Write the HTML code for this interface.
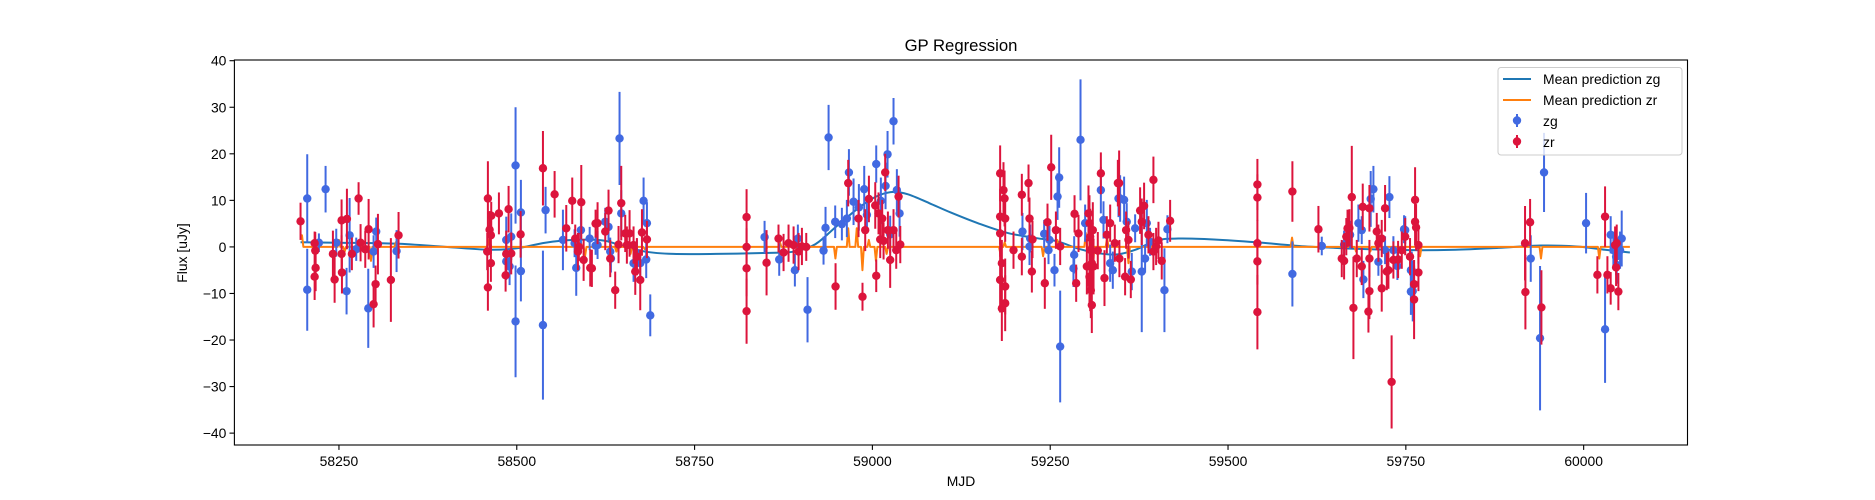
<!DOCTYPE html>
<html><head><meta charset="utf-8"><style>
html,body{margin:0;padding:0;background:#fff;}
svg{display:block;font-family:"Liberation Sans","DejaVu Sans",sans-serif;}
</style></head><body>
<svg id="chart" width="1875" height="500" viewBox="0 0 1875 500" xmlns="http://www.w3.org/2000/svg">
<rect x="0" y="0" width="1875" height="500" fill="#fff"/>
<text x="961" y="51" text-anchor="middle" font-size="16.7" fill="#000">GP Regression</text>
<g id="plot"></g>
<g id="axes"></g>
<text x="961" y="486" text-anchor="middle" font-size="13.9" fill="#000">MJD</text>
<text x="0" y="0" transform="translate(187,253) rotate(-90)" text-anchor="middle" font-size="13.9" fill="#000">Flux [uJy]</text>
<g id="legend">
<rect x="1498" y="67.5" width="184" height="87.5" rx="3" fill="#fff" fill-opacity="0.8" stroke="#ccc" stroke-width="1"/>
<line x1="1503" y1="79" x2="1531" y2="79" stroke="#1f77b4" stroke-width="2"/>
<text x="1543" y="84" font-size="13.9" fill="#000">Mean prediction zg</text>
<line x1="1503" y1="100" x2="1531" y2="100" stroke="#ff7f0e" stroke-width="2"/>
<text x="1543" y="105" font-size="13.9" fill="#000">Mean prediction zr</text>
<line x1="1517" y1="114" x2="1517" y2="127" stroke="#4169e1" stroke-width="2"/>
<circle cx="1517" cy="120.5" r="4.2" fill="#4169e1"/>
<text x="1543" y="126" font-size="13.9" fill="#000">zg</text>
<line x1="1517" y1="135" x2="1517" y2="148" stroke="#dc143c" stroke-width="2"/>
<circle cx="1517" cy="141.5" r="4.2" fill="#dc143c"/>
<text x="1543" y="147" font-size="13.9" fill="#000">zr</text>
</g>
</svg>
<script>
const xTicks=[58250,58500,58750,59000,59250,59500,59750,60000];
const yTicks=[40,30,20,10,0,-10,-20,-30,-40];
const zgMjd=[58205.4,58205.4,58221.8,58231.2,58246.2,58260.7,58265,58274.3,58291.2,58302.4,58298.7,58331,
58485.2,58485.2,58489.9,58492.2,58498.3,58498.3,58505.8,58505.8,58536.8,58540.5,58564.9,58581.3,58583.6,58590.2,58602.5,58610.8,
58613.6,58624.4,58629,58631.4,58632.4,58644.5,58646.9,58664.2,58668.9,58673.6,58678.3,58683,58682,58687.7,
58848.4,58869,58891,58895.2,58908.8,58931.3,58934.1,58938.4,58947.7,58957.1,58964.1,58967,58973.5,58981,58988.5,58992.3,59005.4,59011.9,59018.5,59021.3,59029.7,59034.4,59038.2,59025,
59211,59220.9,59221.8,59241.5,59247.6,59249,59256,59260.3,59262.6,59264,59283.7,59282.7,59292.6,59299.1,59321.2,59324.9,59334.3,59338,59346,
59348.3,59353.9,59357.6,59369.4,59364.7,59378.7,59383.4,59385.8,59390.4,59410.6,59414.8,59590.5,59631.8,
59663.2,59671.6,59683.3,59688,59690.3,59700.6,59704.4,59711.4,59720.8,59726.9,59732.5,59738.1,59749.1,59757.1,59757.1,
59747.5,59758.3,59759.7,59925.6,59938.7,59944.3,60003.4,60030.1,60038,60041.8,60045.6,60046.5,60051.2,60053.5];
const zgFlux=[10.4,-9.2,0.9,12.4,0.9,-9.5,2.5,-0.5,-13.2,3.3,-1,-0.9,
1.5,-3.1,-4.2,2.2,17.5,-16,7.4,-5.2,-16.8,7.9,1.5,0.8,-4.5,3.6,1.8,0.3,
0.4,5.4,4.3,-1,-2.5,23.3,7.2,-3.5,-1.4,-3.5,9.9,5.1,-2.7,-14.7,
2.1,-2.7,-5,1.8,-13.5,-0.8,4.1,23.5,5.4,4.9,6.1,16,9.7,8.5,12.4,6.9,17.8,9.9,13.1,19.9,27,12.2,7.2,2.7,
3.3,0.1,1.8,2.8,-0.7,1.5,-5,10.8,14.9,-21.4,-1.7,-4.6,23,5.1,12.2,5.8,-3.5,-5,10.4,
10.4,10.1,5.4,4,-5.3,-5.3,-2.5,5.1,1.1,-9.3,3.8,-5.8,0.2,
0.5,2.6,5.1,3.6,-7,10.3,12.4,-3.2,-0.7,10.7,-0.7,-4.1,3.6,-5,-9.6,
3.8,-5,-9.5,-2.5,-19.6,16,5.1,-17.7,2.6,-0.7,-2.1,-3.9,-0.7,1.8];
const zgErr=[9.5,8.8,2,5,3,5,8,2.5,8.5,3,3.5,4.5,
5,4,4,5,12.5,12,7,6.5,16,5,6.5,3,6,4.5,2.5,2,
3,3,3,3,3,10,5,4,3,3,5,4.5,4,4.5,
3.5,3.5,3.5,3,7,3,4.5,7,3.5,3.5,4,5,5,5,5,4,4,5,5,5,5,4.5,5,4,
4,4,3,3,3,3,3.5,5,6.5,12,4,4,13,4,5,4,4,4,4,
5,5,4,3,4,13,3,5,3,9,3,7,2,
3,3,4,3,4,6,5,3,3,4.5,3,3,3,4,5,
3,4,6.5,5,15.5,8.5,6.5,11.5,4,4,4,4,4,6];
const zrMjd=[58196,58215.8,58216.7,58217.2,58215.8,58241.5,58243.9,58253.7,58253.7,58254.2,58261.2,58268.2,58277.6,58280.4,58287,58291.7,58304.8,58301.5,58298.7,58323,58333.8,
58459.4,58459.4,58458.5,58461.8,58463.6,58463.6,58464.1,58474.9,58488.5,58485.2,58492.2,58484.3,58505.4,58536.8,58553.2,58569.6,58578,58590.7,58582.2,58586,58587.3,58594,58603.3,58610.8,
58605.6,58613.6,58624.4,58629,58631.4,58638.4,58643.1,58646.9,58652.5,58654.8,58658.6,58664.2,58666.6,58668.9,58673.6,58676,58683,
58823.1,58823.1,58823.1,58823.1,58851.2,58868,58875.1,58882.1,58889.2,58896.2,58900.9,58907,
58948.2,58966,58980.5,58986.1,58989.9,58995.1,59004,59005.4,59008.6,59011,59013.8,59015.7,59018,59021.8,59025,59029.7,59033.5,59036.8,59039.2,
59179.6,59179.6,59179.6,59179.6,59182,59182,59184.3,59185.8,59186.7,59186.7,59186.7,59198.4,59210.1,59210.1,59219.5,59220.9,59225.1,59224.2,59242.4,59246.2,59251.4,59258,59264,59284.2,59286.5,59289.8,
59303.8,59305.2,59306.2,59307.1,59308.5,59305.2,59307.1,59308.5,59310.9,59309.9,59301.5,59306.2,
59316.9,59321.2,59326.3,59329.6,59334.3,59340.8,59345.1,
59346.9,59347.3,59355.3,59356.7,59360,59363.3,59376.4,59378.7,59382,59388.1,59395.1,59395.1,59398.9,59402.2,59406.8,59418.6,
59541.3,59541.3,59541.3,59541.3,59541.3,59590.5,59627.1,
59659.9,59663.2,59666.3,59668,59670.7,59674,59676.3,59681,59688,59689.4,59698.8,59698.8,59698.8,59697.4,59709.1,59711.4,59716.1,59716.1,59720.8,59723.2,59725.5,59730,59732.5,59739.1,59744.3,59749.1,59755.9,
59763,59763,59764.4,59767.7,59767.7,59761.6,59761.6,59917.6,59918.1,59924.7,59940.6,60019.3,60030.1,60033.4,60038,60044.2,60045.6,60048.8,60046.5];
const zrFlux=[5.5,0.8,-0.8,-4.5,-6.4,-1.5,-7,5.7,-1.5,-5.5,6,-1.5,10.4,0.9,-0.5,3.8,0.6,-8,-12.3,-7.1,2.5,
10.4,-8.7,-1,3.7,2.5,-3.5,6.7,7.2,8.1,-1.5,-1.4,-6.1,2.7,16.9,11.3,4,9.9,9.6,1.8,-1,0,-2.8,-4.5,5,
-4.6,5.1,3.3,7.8,-2.5,-9.3,0.5,9.4,2.9,0.4,2.9,0.4,-5.3,-2.1,-7.1,3.1,1.6,
6.4,0,-4.6,-13.8,-3.4,1.8,-1.2,0.8,0.4,-1,0.1,0,
-8.5,13.7,6.1,-10.7,3.6,10.3,8.9,-6.2,7.2,1.6,6.1,1.3,16,3.6,-2.8,3.6,-0.7,10.8,0.5,
15.8,6.5,2.9,-7.1,-3.5,-13.2,12.2,10.4,6.1,-8.5,-12.1,-0.7,11.2,-2.1,13.7,6.1,1.6,-5.3,-7.8,5.3,17.1,3.6,0.1,7.1,-7.8,2.9,
7.2,5.1,2.2,-0.7,-3.5,-6.4,-9.3,-12.5,-4.2,3.6,-4.2,-7.8,
-0.8,15.8,-6.7,2.6,5.1,0.8,13.7,
13.7,-2.5,-6.4,3.6,1.5,-7,7.8,5.4,8.8,2.6,14.4,-1,0.1,1.4,-3,5.6,
13.4,10.6,0.8,-3.1,-14,11.9,3.8,
-2.5,-3,2.2,4,4.1,10.7,-13.1,-2.5,-4.2,8.6,8.3,-2.5,-9.5,-13.9,3.3,0.8,1.8,-8.9,8.3,-5.3,-5,-29,-2.8,-2.7,-0.7,2.2,-2.1,
10.1,5.4,4.2,0.4,-5.5,-8,-11.3,0.8,-9.7,5.3,-13,-6,6.5,-6,-8.9,0.4,-4.4,-9.6,0.8];
const zrErr=[4,2.5,4,5,5,5,5,4.5,4,4.5,6.5,3.5,3.5,4,4,6.5,6.5,4,5,9,5,
8,5,4,4,4,4,3,4.5,5,5,4.5,3.5,5,8,5,5,5,8,3,4,3,4.5,4,3,
4,4.5,4,4.5,4,4,4,8,4,4,5,4,5,4,6.5,5,4,
6,4,6,7,7,3,4,4,4,4,4,3,
5,5,4,3,4.5,5,5,3.5,4.5,4,4,4,4,4,6,4.5,4,4.5,4,
6,6,5,7,5,7,6,6,5,6,6,4,4.5,4,4,4.5,4,4.5,5.5,4,7,4,4,4,4,4,
6,6,6,6,6,6,6,6,6,6,6,6,
4,4.5,6,4,4,4,5,
7,4,4,4,4,4,5,5,5,4,5,4,4,4,4,4.5,
5.5,5,5,5,8,6.5,5,
4,4,4,4,4,11,11,4,4,5,5,4,6,4.5,4,4,4,5,5,4,4,10,4,4,4,4,4,
7,5,5,4,4,4,8.5,8,8,5,8,4,6.5,4,3.5,4,4,4,4];
const zgMeanMjd=[58196,58250,58330,58400,58460,58500,58540,58580,58620,58645,58680,58720,58780,58850,58890,58920,58950,58980,59005,59028,59050,59080,59110,59150,59190,59230,59260,59290,59320,59345,59370,59400,59430,59480,59540,59600,59650,59700,59760,59820,59880,59940,59990,60030,60065];
const zgMeanFlux=[1.0,0.9,0.7,0,-0.6,-0.3,0.9,1.5,1.4,0.4,-1.0,-1.5,-1.5,-1.3,-1.0,0.6,4.5,8.3,10.8,11.8,11.3,9.4,7.4,5.0,3.0,1.9,1.2,-0.4,-1.4,-1.6,-0.6,1.4,1.8,1.6,1.0,0.2,-0.2,-0.5,-0.7,-0.6,-0.2,0.3,0.1,-0.6,-1.2];
const zrSpikeMjd=[58198,58250,58258,58295,58301,58330,58460,58590,58596,58640,58660,58680,58850,58870,58948,58966,58978,58986,58995,59005,59020,59180,59186,59240,59260,59300,59310,59330,59360,59395,59590,59680,59700,59770,59940,60022];
const zrSpikeVal=[2.5,1.5,-1,-3,-1,1,1.5,1,-2,-1,-1.5,-0.5,-1,1,-2.5,4,4,-5,1.5,-3,-1.5,-1.5,1,-2,1.5,3,-5,2,-3.5,1.5,2,-1,-1,-2,-2.5,-2.5];

const NS='http://www.w3.org/2000/svg';
const L=234.4,R=1687.5,T=60,B=445;
const X0=58103,X1=60146,Y0=-42.55,Y1=40.15;
function xs(v){return L+(v-X0)/(X1-X0)*(R-L);}
function ys(v){return B-(v-Y0)/(Y1-Y0)*(B-T);}
function mk(tag,attrs,parent){const e=document.createElementNS(NS,tag);for(const k in attrs)e.setAttribute(k,attrs[k]);parent.appendChild(e);return e;}
const plot=document.getElementById('plot');
const axes=document.getElementById('axes');
// clip
const defs=mk('defs',{},plot);
const cp=mk('clipPath',{id:'clip'},defs);
mk('rect',{x:L,y:T,width:R-L,height:B-T},cp);
const g=mk('g',{'clip-path':'url(#clip)'},plot);



// zg mean curve (Catmull-Rom)
function curvePath(xa,ya){
  const p=xa.map((x,i)=>[xs(x),ys(ya[i])]);
  let d='M'+p[0][0].toFixed(2)+','+p[0][1].toFixed(2);
  for(let i=0;i<p.length-1;i++){
    const p0=p[Math.max(0,i-1)],p1=p[i],p2=p[i+1],p3=p[Math.min(p.length-1,i+2)];
    const c1=[p1[0]+(p2[0]-p0[0])/6,p1[1]+(p2[1]-p0[1])/6];
    const c2=[p2[0]-(p3[0]-p1[0])/6,p2[1]-(p3[1]-p1[1])/6];
    d+='C'+c1[0].toFixed(2)+','+c1[1].toFixed(2)+' '+c2[0].toFixed(2)+','+c2[1].toFixed(2)+' '+p2[0].toFixed(2)+','+p2[1].toFixed(2);
  }
  return d;
}
const zgLine=mk('path',{d:curvePath(zgMeanMjd,zgMeanFlux),fill:'none',stroke:'#1f77b4','stroke-width':2},g);



// zr mean: baseline 0 with spikes
(function(){
  let pts=[];
  const x0=zrSpikeMjd[0];
  pts.push([xs(x0-2),ys(zrSpikeVal[0])]);
  pts.push([xs(x0),ys(zrSpikeVal[0])]);
  pts.push([xs(x0+2),ys(0)]);
  for(let i=1;i<zrSpikeMjd.length;i++){
    const m=zrSpikeMjd[i];
    pts.push([xs(m-2),ys(0)]);
    pts.push([xs(m),ys(zrSpikeVal[i])]);
    pts.push([xs(m+2),ys(0)]);
  }
  pts.push([xs(60065),ys(0)]);
  const l=mk('polyline',{points:pts.map(p=>p[0].toFixed(2)+','+p[1].toFixed(2)).join(' '),fill:'none',stroke:'#ff7f0e','stroke-width':2,'stroke-linejoin':'round'},g);
  
  
})();

function drawSeries(mjd,flux,err,color,name){
  const sg=mk('g',{},g);
  
  
  for(let i=0;i<mjd.length;i++){
    const x=xs(mjd[i]);
    const eb=mk('line',{x1:x,x2:x,y1:ys(flux[i]-err[i]),y2:ys(flux[i]+err[i]),stroke:color,'stroke-width':2},sg);
    
    
  }
  for(let i=0;i<mjd.length;i++){
    const c=mk('circle',{cx:xs(mjd[i]),cy:ys(flux[i]),r:4.2,fill:color},sg);
    
    
  }
}
drawSeries(zgMjd,zgFlux,zgErr,'#4169e1','zg');
drawSeries(zrMjd,zrFlux,zrErr,'#dc143c','zr');

// axes frame
const fr=mk('rect',{x:L,y:T,width:R-L,height:B-T,fill:'none',stroke:'#000','stroke-width':1.1},axes);


xTicks.forEach(v=>{
  const x=xs(v);
  const t=mk('line',{x1:x,x2:x,y1:B,y2:B+4.9,stroke:'#000','stroke-width':1.1},axes);
  
  
  const tx=mk('text',{x:x,y:B+21,'text-anchor':'middle','font-size':13.9,fill:'#000'},axes);
  tx.textContent=String(v);
  
  
});
yTicks.forEach(v=>{
  const y=ys(v);
  const t=mk('line',{x1:L-4.9,x2:L,y1:y,y2:y,stroke:'#000','stroke-width':1.1},axes);
  
  
  const tx=mk('text',{x:L-8,y:y+5,'text-anchor':'end','font-size':13.9,fill:'#000'},axes);
  tx.textContent=v<0?'\u2212'+Math.abs(v):String(v);
  
  
});
</script>
</body></html>
